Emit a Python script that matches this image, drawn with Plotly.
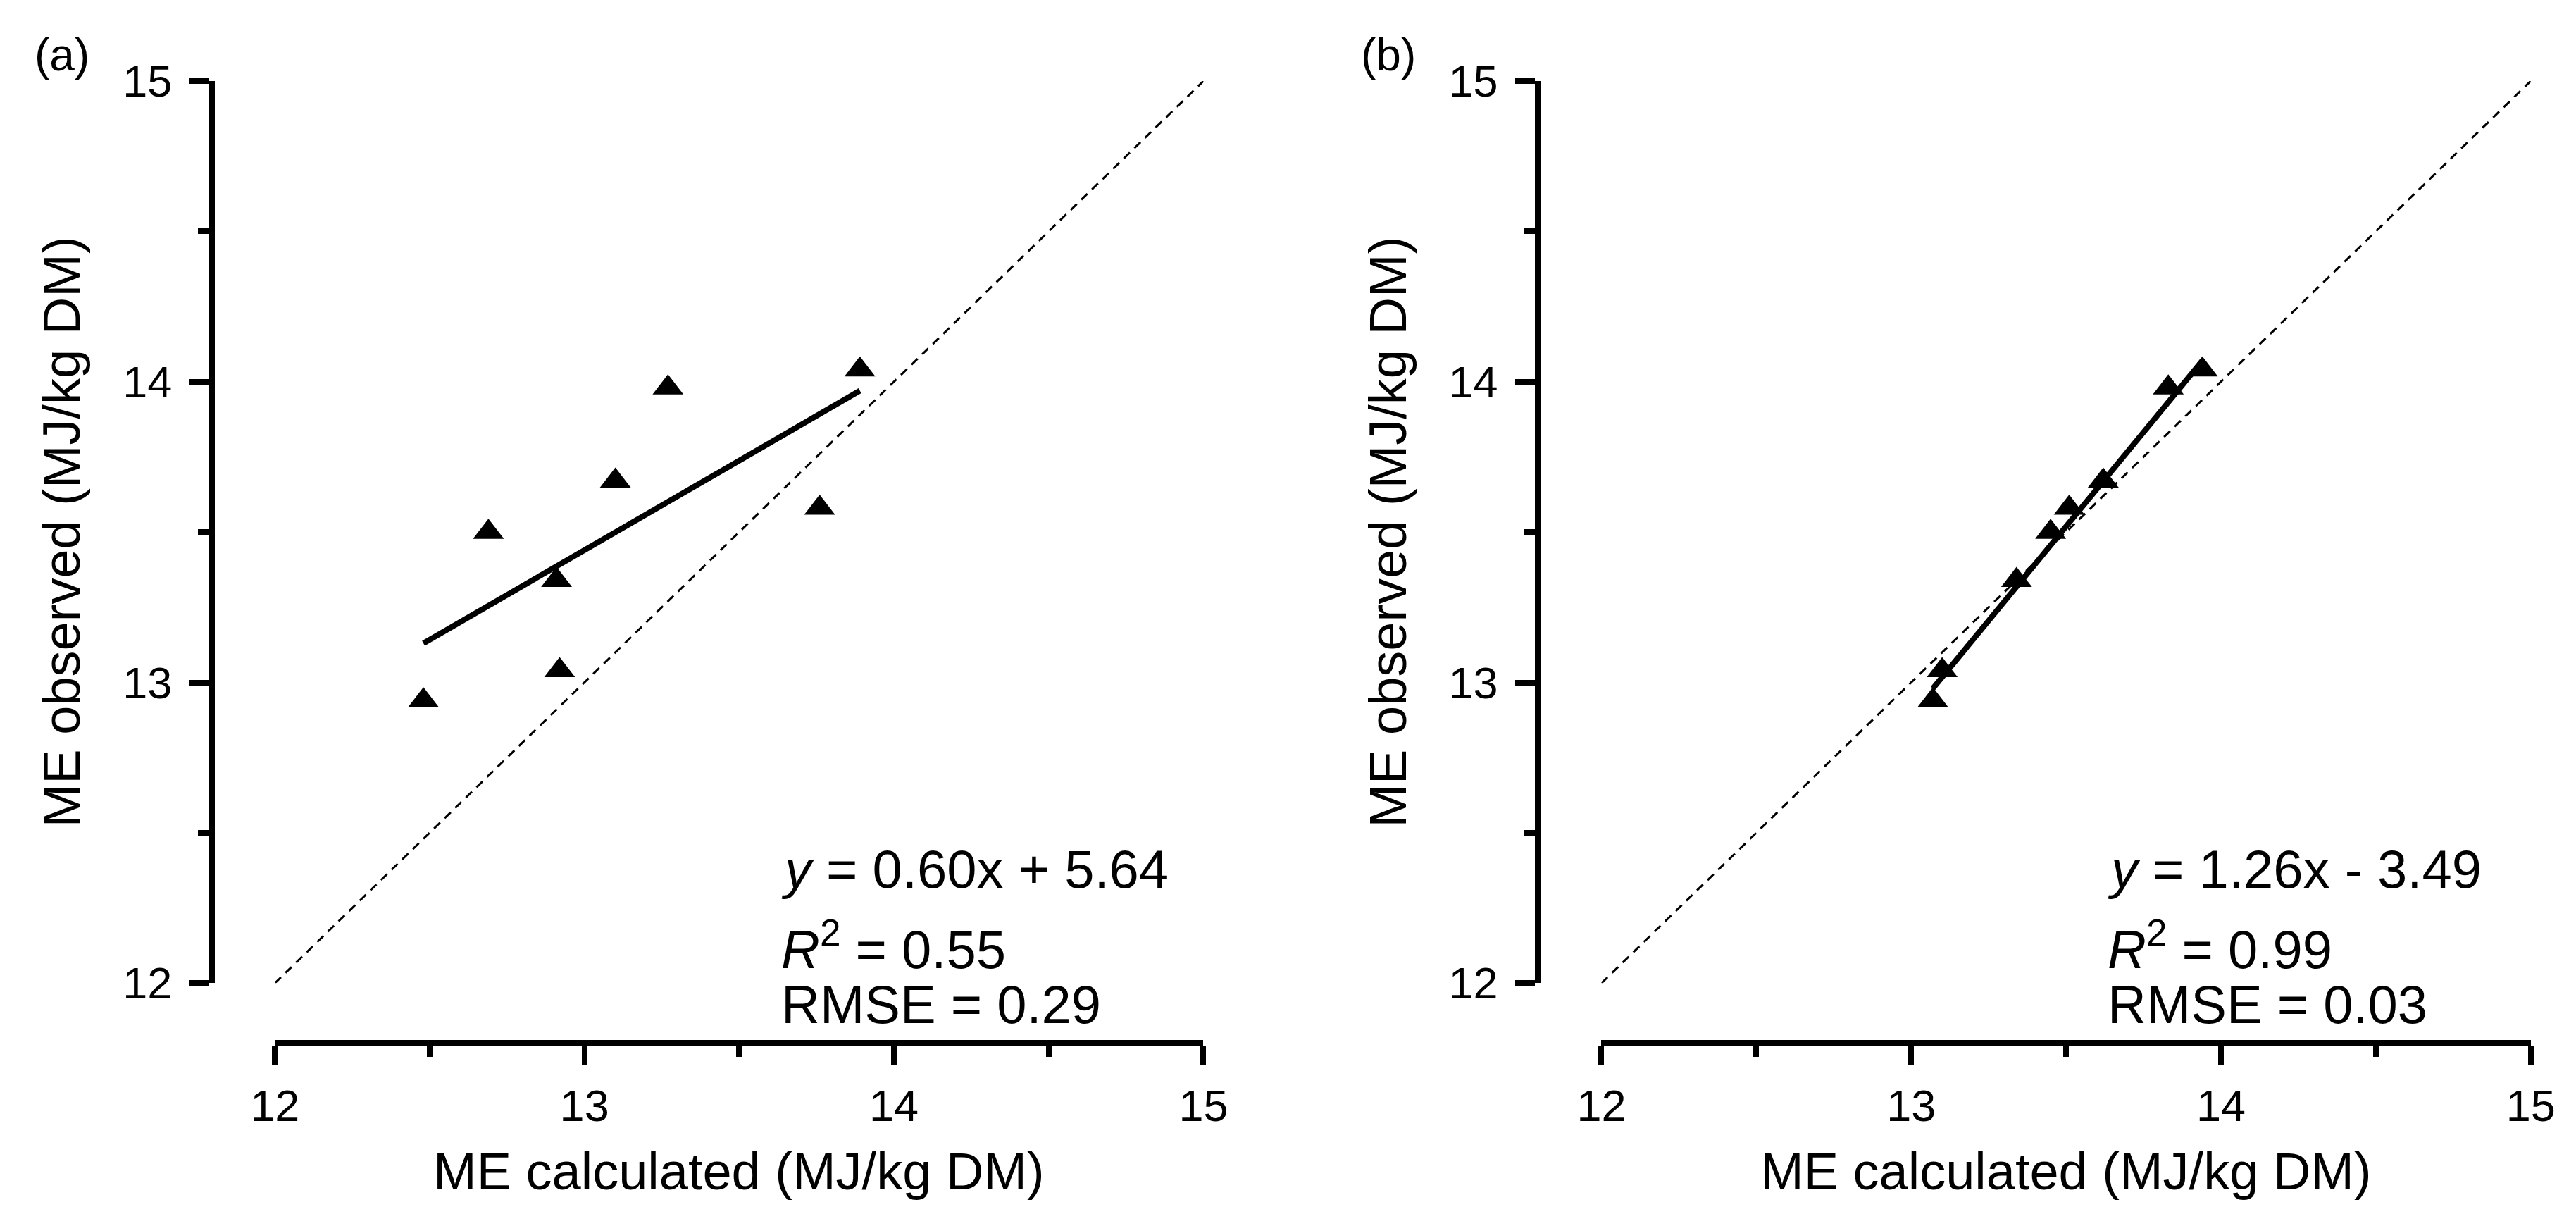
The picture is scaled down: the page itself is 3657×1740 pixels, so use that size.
import plotly.graph_objects as go

# ---------------- data ----------------
obs_a = [12.94, 13.50, 13.34, 13.04, 13.67, 13.98, 13.58, 14.04]
calc_a = [12.48, 12.69, 12.91, 12.92, 13.10, 13.27, 13.76, 13.89]
fit_a_x = [12.48, 13.89]
fit_a_y = [13.13, 13.97]

calc_b = [13.07, 13.10, 13.34, 13.45, 13.51, 13.62, 13.83, 13.94]
obs_b = [12.94, 13.04, 13.34, 13.50, 13.58, 13.67, 13.98, 14.04]
fit_b_x = [13.07, 13.94]
fit_b_y = [12.98, 14.07]

one_to_one = [12, 15]
tick_vals = [12, 13, 14, 15]
tick_text = ["12", "13", "14", "15"]

eq_a = ["<i>y</i> = 0.60x + 5.64", "<i>R</i><sup>2</sup> = 0.55", "RMSE = 0.29"]
eq_b = ["<i>y</i> = 1.26x - 3.49", "<i>R</i><sup>2</sup> = 0.99", "RMSE = 0.03"]

x_title = "ME calculated (MJ/kg DM)"
y_title = "ME observed (MJ/kg DM)"
panel_labels = ["(a)", "(b)"]

# ---------------- layout constants ----------------
W, H = 3657, 1740
FONT = "Liberation Sans, Arial, sans-serif"

def px(x):
    return x / W

def py(y):
    return 1 - y / H

xa_dom = [px(354), px(1698)]
xb_dom = [px(2274), px(3619)]
y_dom = [py(1409), py(75)]

fig = go.Figure()

for (cx, ob, fx, fy, xr, yr) in [
    (calc_a, obs_a, fit_a_x, fit_a_y, "x", "y"),
    (calc_b, obs_b, fit_b_x, fit_b_y, "x2", "y2"),
]:
    fig.add_trace(go.Scatter(x=one_to_one, y=one_to_one, mode="lines",
                             line=dict(color="black", width=3, dash="12px,9px"),
                             xaxis=xr, yaxis=yr, showlegend=False, hoverinfo="skip"))
    fig.add_trace(go.Scatter(x=cx, y=ob, mode="markers",
                             marker=dict(symbol="triangle-up", size=38, color="black",
                                         line=dict(width=0)),
                             xaxis=xr, yaxis=yr, showlegend=False, cliponaxis=False))
    fig.add_trace(go.Scatter(x=fx, y=fy, mode="lines",
                             line=dict(color="black", width=8),
                             xaxis=xr, yaxis=yr, showlegend=False))

axis_common = dict(
    range=[12, 15], showgrid=False, zeroline=False, showline=True,
    linecolor="black", linewidth=8, ticks="outside", ticklen=28, tickwidth=8,
    tickcolor="black", tickvals=tick_vals, ticktext=tick_text,
    tickfont=dict(family=FONT, size=63, color="black"),
    minor=dict(ticks="outside", ticklen=16, tickwidth=8, tickcolor="black", dtick=0.5),
)

fig.update_layout(
    width=W, height=H,
    margin=dict(l=0, r=0, t=0, b=0),
    paper_bgcolor="white", plot_bgcolor="white",
    font=dict(family=FONT, color="black"),
    xaxis=dict(domain=xa_dom, anchor="free", position=py(1497), ticklabelstandoff=4, **axis_common),
    yaxis=dict(domain=y_dom, anchor="free", position=px(263), ticklabelstandoff=12, **axis_common),
    xaxis2=dict(domain=xb_dom, anchor="free", position=py(1497), ticklabelstandoff=4, **axis_common),
    yaxis2=dict(domain=y_dom, anchor="free", position=px(2182), ticklabelstandoff=12, **axis_common),
)

ann = []
# axis titles
for xd in (xa_dom, xb_dom):
    ann.append(dict(text=x_title, x=(xd[0] + xd[1]) / 2, y=py(1687), xref="paper", yref="paper",
                    xanchor="center", yanchor="middle", showarrow=False,
                    font=dict(family=FONT, size=74, color="black")))
for xc in (45, 1965):
    ann.append(dict(text=y_title, x=px(xc), y=(y_dom[0] + y_dom[1]) / 2, xref="paper", yref="paper",
                    xanchor="center", yanchor="middle", textangle=-90, showarrow=False,
                    font=dict(family=FONT, size=74, color="black")))
# panel labels
for lab, xc in zip(panel_labels, (4, 1924)):
    ann.append(dict(text=lab, x=px(xc), y=py(36), xref="paper", yref="paper",
                    xanchor="left", yanchor="middle", showarrow=False,
                    font=dict(family=FONT, size=64, color="black")))
# equations
for lines, xl in ((eq_a, 1085), (eq_b, 3005)):
    for txt, yc in zip(lines, (1240, 1353, 1440)):
        ann.append(dict(text=txt, x=px(xl), y=py(yc), xref="paper", yref="paper",
                        xanchor="left", yanchor="middle", showarrow=False,
                        font=dict(family=FONT, size=76, color="black")))
fig.update_layout(annotations=ann)

fig.write_html("out.html")
